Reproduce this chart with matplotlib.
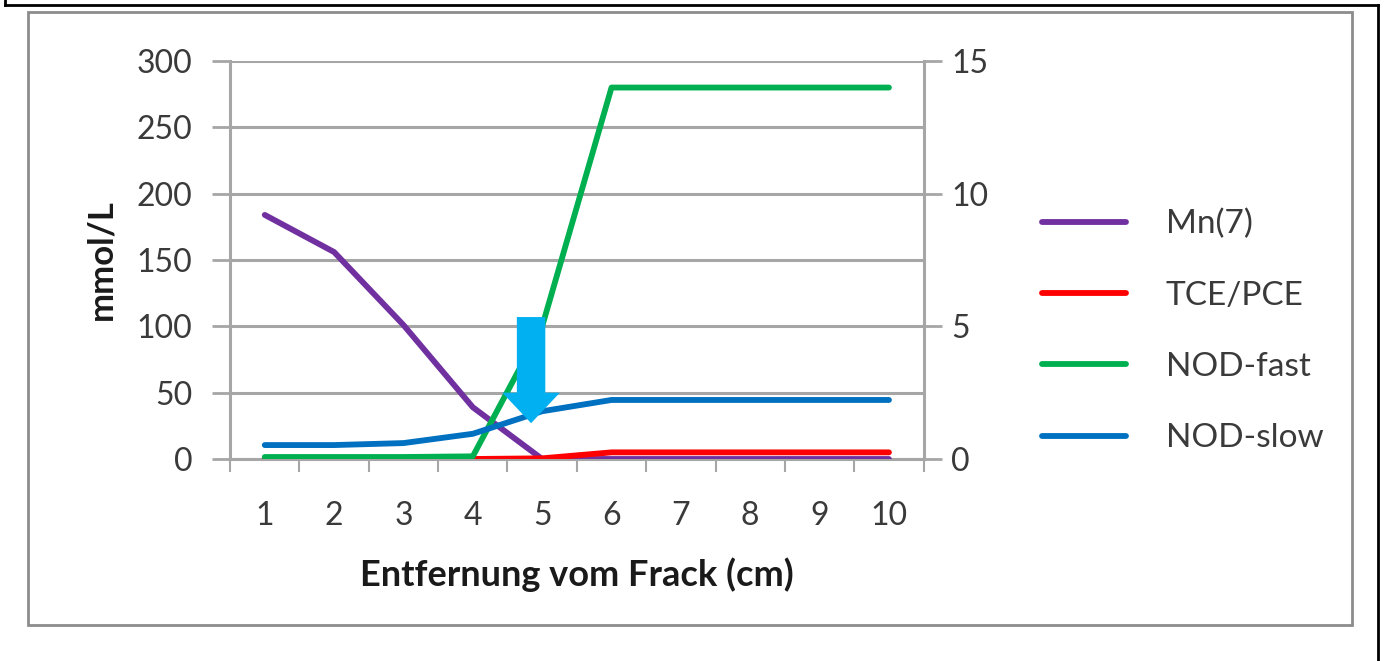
import matplotlib.pyplot as plt
import matplotlib.lines as mlines

plt.rcParams['font.family'] = ['Lato', 'DejaVu Sans']

# Daten
entfernung = [1, 2, 3, 4, 5, 6, 7, 8, 9, 10]
mn7 = [184, 156, 101, 39, 0, 0, 0, 0, 0, 0]
tce_pce = [0, 0, 0, 0, 0.5, 5, 5, 5, 5, 5]
nod_fast = [1.5, 1.5, 1.5, 2, 100, 280, 280, 280, 280, 280]
nod_slow = [10.5, 10.5, 12, 19, 36, 44.5, 44.5, 44.5, 44.5, 44.5]
labels = ["Mn(7)", "TCE/PCE", "NOD-fast", "NOD-slow"]
farben = ["#7030A0", "#FF0000", "#00B050", "#0070C0"]

# Pfeil (Markierung)
pfeil_x = 4.84
pfeil_oben = 107
pfeil_spitze = 27

grau = "#A6A6A6"
txt = "#3a3a3a"

fig = plt.figure(figsize=(13.86, 6.61), dpi=100)
ax = fig.add_axes([0.166, 0.3056, 0.5004, 0.6021])

for serie, lab, c in zip([mn7, tce_pce, nod_fast, nod_slow], labels, farben):
    ax.plot(entfernung, serie, color=c, lw=4.2, label=lab, solid_capstyle='round',
            solid_joinstyle='round', zorder=3)

ax.set_xlim(0.5, 10.5)
ax.set_ylim(0, 300)
ax.set_yticks(range(0, 301, 50))
ax.set_xticks(entfernung)
ax.set_xticks([x + 0.5 for x in range(0, 11)], minor=True)
ax.grid(axis='y', color=grau, lw=2.2, zorder=0)
ax.tick_params(axis='x', which='major', length=0, pad=30, labelsize=23, labelcolor=txt)
ax.tick_params(axis='x', which='minor', length=9, width=1.5, color=grau, direction='out')
ax.tick_params(axis='y', length=13, width=2, color=grau, pad=14, labelsize=23, labelcolor=txt)

for s in ['top', 'right']:
    ax.spines[s].set_visible(False)
ax.spines['left'].set_color(grau)
ax.spines['left'].set_linewidth(2.2)
ax.spines['bottom'].set_color(grau)
ax.spines['bottom'].set_linewidth(2.2)

ax.set_ylabel("mmol/L", fontsize=25, fontweight='bold', color='#1a1a1a', labelpad=14)
ax.set_xlabel("Entfernung vom Frack (cm)", fontsize=26, fontweight='bold', color='#1a1a1a',
              labelpad=19)

ax2 = ax.twinx()
ax2.set_ylim(0, 15)
ax2.set_yticks([0, 5, 10, 15])
for s in ['top', 'left', 'bottom']:
    ax2.spines[s].set_visible(False)
ax2.spines['right'].set_color(grau)
ax2.spines['right'].set_linewidth(2.2)
ax2.tick_params(axis='y', length=13, width=2, color=grau, pad=7, labelsize=23, labelcolor=txt)

ax2.arrow(pfeil_x, pfeil_oben, 0, pfeil_spitze - pfeil_oben, transform=ax.transData,
          width=0.41, head_width=0.83, head_length=23, length_includes_head=True,
          color="#00B0F0", lw=0, zorder=10)

leg = ax2.legend(*ax.get_legend_handles_labels(), loc='upper left',
                 bbox_to_anchor=(0.752, 0.684), bbox_transform=fig.transFigure,
                 frameon=False, fontsize=24, handlelength=2.5, handletextpad=1.2,
                 labelspacing=1.24, borderaxespad=0, borderpad=0)
for t in leg.get_texts():
    t.set_color(txt)

# Rahmen
fig.add_artist(plt.Rectangle((28 / 1386, 1 - 625 / 661), (1352 - 28) / 1386, (625 - 12) / 661,
                             transform=fig.transFigure, fill=False, ec="#8C8C8C", lw=2))
for xs, ys in [([5, 5], [0, 5]), ([5, 1378], [5, 5]), ([1378, 1378], [5, 661])]:
    fig.add_artist(mlines.Line2D([x / 1386 for x in xs], [1 - y / 661 for y in ys],
                                 transform=fig.transFigure, color='black', lw=2))

fig.savefig("out.png", dpi=100)
